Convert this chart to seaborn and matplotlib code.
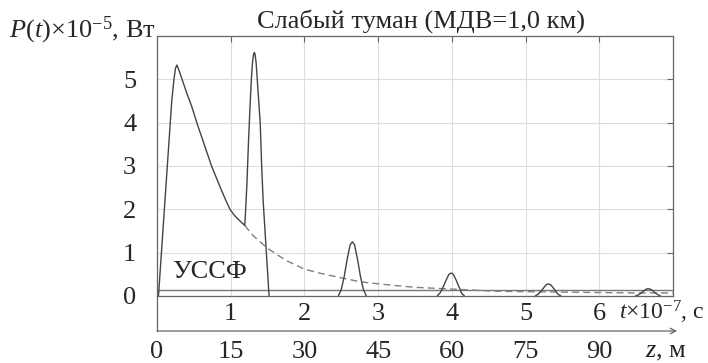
import numpy as np
import pandas as pd
import matplotlib
matplotlib.use("Agg")
import matplotlib.pyplot as plt
import seaborn as sns

# ---------------- data (t in 1e-7 s, P in 1e-5 W) ----------------
pulse1_t = [0.0, 0.02, 0.08, 0.14, 0.20, 0.23, 0.25, 0.27, 0.30, 0.34, 0.40, 0.47, 0.54, 0.64, 0.74, 0.86, 0.93, 0.99, 1.05, 1.12, 1.19]
pulse1_p = [0.0, 0.0, 1.5, 3.0, 4.5, 5.0, 5.25, 5.33, 5.2, 5.0, 4.7, 4.38, 4.0, 3.5, 3.0, 2.5, 2.22, 2.0, 1.86, 1.74, 1.63]

pulse2_t = [1.19, 1.20, 1.22, 1.24, 1.26, 1.28, 1.295, 1.31, 1.32, 1.33, 1.345, 1.36, 1.38, 1.40, 1.42, 1.44, 1.48, 1.52]
pulse2_p = [1.63, 1.9, 2.6, 3.5, 4.3, 5.0, 5.38, 5.58, 5.62, 5.58, 5.38, 5.0, 4.5, 4.0, 3.0, 2.2, 1.1, 0.0]

pulse3_t = [2.46, 2.50, 2.54, 2.58, 2.62, 2.65, 2.68, 2.72, 2.76, 2.80, 2.84]
pulse3_p = [0.0, 0.15, 0.45, 0.85, 1.18, 1.25, 1.18, 0.85, 0.45, 0.15, 0.0]

pulse4_t = [3.80, 3.84, 3.88, 3.92, 3.96, 3.99, 4.02, 4.06, 4.10, 4.13, 4.17]
pulse4_p = [0.0, 0.07, 0.20, 0.36, 0.50, 0.53, 0.50, 0.36, 0.20, 0.07, 0.0]

pulse5_t = [5.13, 5.17, 5.21, 5.25, 5.28, 5.31, 5.34, 5.37, 5.41, 5.44, 5.48]
pulse5_p = [0.0, 0.04, 0.11, 0.20, 0.26, 0.28, 0.26, 0.20, 0.11, 0.04, 0.0]

pulse6_t = [6.49, 6.53, 6.57, 6.61, 6.64, 6.66, 6.69, 6.72, 6.76, 6.80, 6.83]
pulse6_p = [0.0, 0.025, 0.07, 0.13, 0.16, 0.17, 0.16, 0.13, 0.07, 0.025, 0.0]

envelope_t = [1.19, 1.3, 1.5, 1.75, 2.0, 2.2, 2.5, 2.75, 3.0, 3.5, 4.0, 4.6, 5.0, 5.5, 6.0, 6.5, 7.0]
envelope_p = [1.63, 1.4, 1.1, 0.82, 0.62, 0.53, 0.42, 0.33, 0.28, 0.2, 0.16, 0.11, 0.10, 0.09, 0.08, 0.07, 0.07]

threshold_t = [0.0, 7.0]
threshold_p = [0.13, 0.13]

t_ticks = [1, 2, 3, 4, 5, 6]
p_ticks = [0, 1, 2, 3, 4, 5]
z_tick_pos = [0, 1, 2, 3, 4, 5, 6]
z_tick_labels = ["0", "15", "30", "45", "60", "75", "90"]

title = "Слабый туман (МДВ=1,0 км)"
threshold_label = "УССФ"

# ---------------- style ----------------
sns.set_style("white")
plt.rcParams["font.family"] = ["Liberation Serif", "DejaVu Serif"]
plt.rcParams["mathtext.fontset"] = "custom"
plt.rcParams["mathtext.rm"] = "Liberation Serif"
plt.rcParams["mathtext.it"] = "Liberation Serif:italic"
FS = 19
line_col = "#444444"
spine_col = "#666666"

W, H = 708, 363
fig = plt.figure(figsize=(W / 100, H / 100), dpi=100)
L, R, T, B = 157, 673, 36, 296
ax = fig.add_axes([L / W, 1 - B / H, (R - L) / W, (B - T) / H])

pulses = [(pulse1_t, pulse1_p), (pulse2_t, pulse2_p), (pulse3_t, pulse3_p),
          (pulse4_t, pulse4_p), (pulse5_t, pulse5_p), (pulse6_t, pulse6_p)]
rows = []
for i, (tt, pp) in enumerate(pulses):
    for a, b in zip(tt, pp):
        rows.append({"t": a, "P": b, "seg": f"p{i}"})
df = pd.DataFrame(rows)
df_env = pd.DataFrame({"t": envelope_t, "P": envelope_p})
df_thr = pd.DataFrame({"t": threshold_t, "P": threshold_p})

sns.lineplot(data=df_thr, x="t", y="P", ax=ax, color="#777777", lw=1.0,
             estimator=None, sort=False)
sns.lineplot(data=df_env, x="t", y="P", ax=ax, color="#808080", lw=1.0,
             linestyle=(0, (5, 3)), estimator=None, sort=False)
sns.lineplot(data=df, x="t", y="P", units="seg", ax=ax, color=line_col, lw=1.0,
             estimator=None, sort=False)

ax.set_xlim(0, 7)
ax.set_ylim(0, 6)
ax.set_xticks(t_ticks)
ax.set_xticklabels([str(v) for v in t_ticks], fontsize=FS)
ax.set_yticks(p_ticks)
ax.set_yticklabels([str(v) for v in p_ticks], fontsize=FS)
ax.set_xlabel("")
ax.set_ylabel("")
ax.grid(True, color="#dddddd", lw=0.8)
ax.tick_params(axis="both", direction="in", length=4, width=0.8, color=spine_col,
               top=True, right=True)
ax.tick_params(axis="x", pad=5)
ax.tick_params(axis="y", pad=15)
for s in ax.spines.values():
    s.set_color(spine_col)
    s.set_linewidth(0.9)

ax.text(0.2, 0.55, threshold_label, fontsize=FS, ha="left", va="center")

# ---------------- lower z axis ----------------
ZB = 331
ax2 = fig.add_axes([L / W, 1 - ZB / H, (R - L) / W, (ZB - B) / H])
ax2.set_xlim(0, 7)
ax2.set_ylim(0, 1)
ax2.patch.set_alpha(0)
for k in ["top", "right", "bottom"]:
    ax2.spines[k].set_visible(False)
ax2.spines["left"].set_color(spine_col)
ax2.spines["left"].set_linewidth(0.9)
ax2.set_yticks([])
ax2.set_xticks(z_tick_pos)
ax2.set_xticklabels(z_tick_labels, fontsize=FS)
ax2.tick_params(axis="x", direction="in", length=4, width=0.8, color=spine_col, pad=7)
ax2.annotate("", xy=(1.008, 0), xytext=(0, 0), xycoords="axes fraction",
             arrowprops=dict(arrowstyle="->", color=spine_col, lw=0.9,
                             shrinkA=0, shrinkB=0), annotation_clip=False)

# ---------------- texts ----------------
fig.text(421 / W, 1 - 21 / H, title, fontsize=FS, ha="center", va="center")
fig.text(9 / W, 1 - 30 / H, r"$P\mathrm{(}t\mathrm{)}$×10$^{\mathrm{−5}}$, Вт",
         fontsize=FS, ha="left", va="center")
fig.text(704 / W, 1 - 312 / H, r"$t$×10$^{\mathrm{−7}}$, с", fontsize=17,
         ha="right", va="center")
fig.text(645 / W, 1 - 352 / H, r"$z$, м", fontsize=FS, ha="left", va="center")

fig.savefig("out.png", dpi=100)
